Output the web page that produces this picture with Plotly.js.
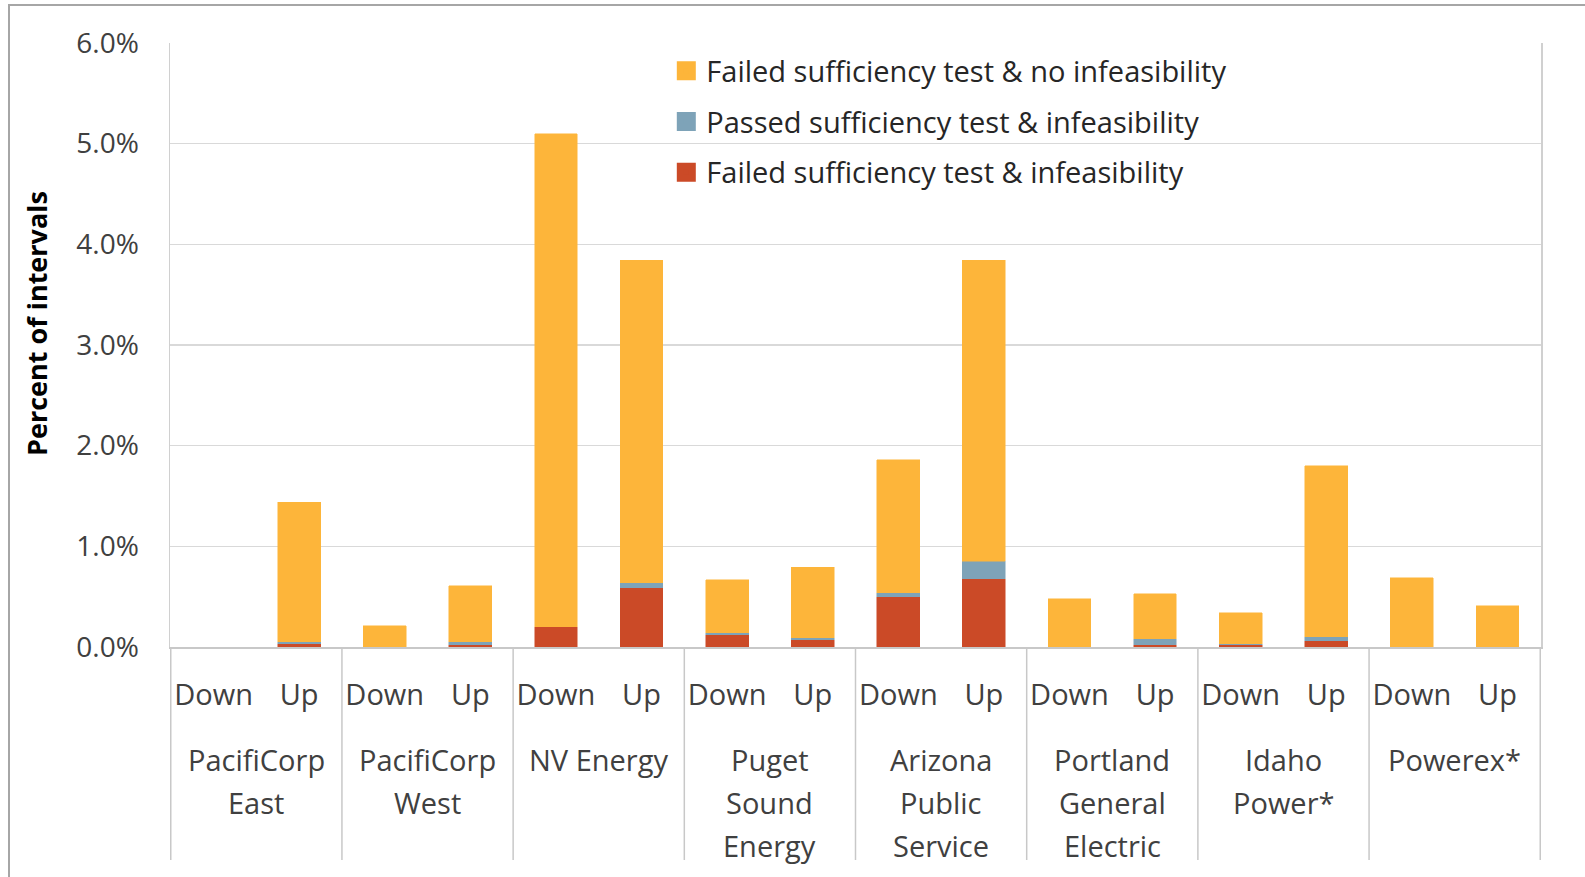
<!DOCTYPE html>
<html>
<head>
<meta charset="utf-8">
<script src="https://cdn.plot.ly/plotly-3.0.1.min.js"></script>
<style>
  html, body { margin: 0; padding: 0; background: #fff; }
  #frame { position: absolute; left: 8px; top: 4px; width: 1590px; height: 880px; border: 2px solid #a6a6a6; box-sizing: border-box; }
  #chart { position: absolute; left: 0; top: 0; width: 1585px; height: 877px; }
  .legend .legendpoints path { stroke-width: 7px !important; }
</style>
</head>
<body>
<div id="frame"></div>
<div id="chart"></div>
<script>
const groupLines = [["PacifiCorp", "East"], ["PacifiCorp", "West"], ["NV Energy"], ["Puget", "Sound", "Energy"],
                    ["Arizona", "Public", "Service"], ["Portland", "General", "Electric"], ["Idaho", "Power*"], ["Powerex*"]];
const directions = ["Down", "Up"];

// values in percent, order: per group Down then Up
const failedInfeasible   = [0.00, 0.03, 0.00, 0.02, 0.20, 0.59, 0.12, 0.07, 0.50, 0.68, 0.00, 0.02, 0.02, 0.06, 0.00, 0.00];
const passedInfeasible   = [0.00, 0.02, 0.00, 0.03, 0.00, 0.05, 0.02, 0.02, 0.04, 0.17, 0.00, 0.06, 0.01, 0.04, 0.00, 0.00];
const failedNoInfeasible = [0.00, 1.39, 0.21, 0.56, 4.90, 3.20, 0.53, 0.70, 1.32, 2.99, 0.48, 0.45, 0.31, 1.70, 0.69, 0.41];

const seriesNames = ["Failed sufficiency test & infeasibility",
                     "Passed sufficiency test & infeasibility",
                     "Failed sufficiency test & no infeasibility"];
const seriesColors = ["#CB4A27", "#7EA3B8", "#FDB53A"];
const yTitle = "Percent of intervals";

const xKeys = [], xText = [];
groupLines.forEach(g => directions.forEach(d => { xKeys.push(g.join(" ") + " | " + d); xText.push(d); }));

const seriesValues = [failedInfeasible, passedInfeasible, failedNoInfeasible];
const traces = seriesValues.map((vals, i) => ({
  type: "bar",
  name: seriesNames[i],
  legendgroup: "g" + i,
  legendrank: 3 - i,
  x: xKeys,
  y: vals.map(v => v / 100),
  marker: { color: seriesColors[i], line: { width: 0.5, color: seriesColors[i] } },
  hoverinfo: "skip"
}));

const font = "'Open Sans', 'Liberation Sans', sans-serif";
const textColor = "#404040";
const plotBottom = 647, plotH = 877 - 43 - 230, plotW = 1585 - 170 - 44;

// group labels under the Down/Up labels, one annotation per line
const annotations = [];
groupLines.forEach((lines, i) => {
  lines.forEach((t, j) => {
    annotations.push({
      xref: "x", yref: "paper",
      x: 2 * i + 0.5,
      y: -(759 + 43 * j - plotBottom) / plotH,
      text: t, showarrow: false, xanchor: "center", yanchor: "middle",
      font: { family: font, size: 29, color: textColor }
    });
  });
});
// y axis title
annotations.push({
  xref: "paper", yref: "paper", x: (36 - 170) / plotW, y: (plotBottom - 324) / plotH,
  text: "<b>" + yTitle + "</b>", textangle: -90, showarrow: false,
  xanchor: "center", yanchor: "middle",
  font: { family: font, size: 27, color: "#000" }
});

// vertical separators between groups
const shapes = [];
for (let i = 0; i <= groupLines.length; i++) {
  shapes.push({
    type: "line", xref: "x", yref: "paper",
    x0: 2 * i - 0.5, x1: 2 * i - 0.5, y0: 0, y1: -(860 - plotBottom) / plotH,
    line: { color: "#c8c8c8", width: 1.5 }
  });
}

const layout = {
  width: 1585, height: 877,
  margin: { l: 170, r: 44, t: 43, b: 230 },
  paper_bgcolor: "rgba(0,0,0,0)",
  plot_bgcolor: "#fff",
  barmode: "stack",
  bargap: 0.5,
  showlegend: true,
  legend: {
    x: 0.362, y: 0.996, xanchor: "left", yanchor: "top",
    traceorder: "grouped",
    tracegroupgap: 10,
    bgcolor: "rgba(0,0,0,0)",
    font: { family: font, size: 29, color: "#262626" },
    itemwidth: 30
  },
  font: { family: font, color: textColor },
  annotations: annotations,
  shapes: shapes,
  xaxis: {
    type: "category",
    tickvals: xKeys, ticktext: xText,
    tickfont: { family: font, size: 29, color: textColor },
    ticklabelstandoff: 22,
    showline: true, linecolor: "#c8c8c8", linewidth: 1.5,
    showgrid: false, ticks: ""
  },
  yaxis: {
    range: [0, 0.06],
    dtick: 0.01,
    tickformat: ".1%",
    tickfont: { family: font, size: 28, color: textColor },
    showgrid: true, gridcolor: "#d9d9d9", gridwidth: 1.5,
    showline: true, mirror: true, linecolor: "#d0d0d0", linewidth: 1.5,
    zeroline: false,
    ticklabelstandoff: 24
  }
};

Plotly.newPlot("chart", traces, layout, { displayModeBar: false, staticPlot: true });
</script>
</body>
</html>
